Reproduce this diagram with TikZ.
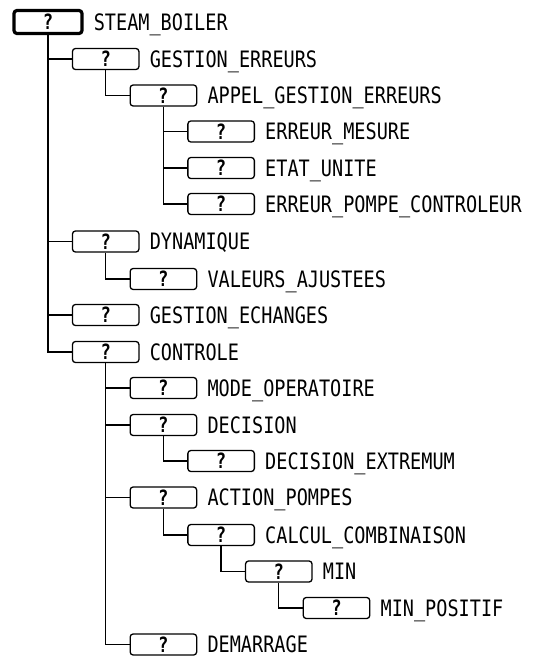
\documentclass[tikz,border=0pt]{standalone}
\usepackage{fontspec}
\newfontfamily\treefont[FakeStretch=0.82]{DejaVu Sans Mono}
\usetikzlibrary{positioning}

\tikzset{
  unit/.style={draw, line width=1.3pt, rounded corners=3pt, minimum width=66.5pt,
    minimum height=21pt, inner sep=0pt, text height=15pt, text depth=0pt,
    font=\treefont\bfseries\fontsize{21}{21}\selectfont},
  rootunit/.style={unit, line width=3.2pt, minimum width=68pt, minimum height=23pt},
  lbl/.style={inner sep=0pt, anchor=west, text height=16.5pt, text depth=0pt,
    font=\treefont\fontsize{22.6}{24}\selectfont},
  conn/.style={line width=1.3pt}
}

\begin{document}
\begin{tikzpicture}[x=1pt,y=-1pt]
\useasboundingbox (0,0) rectangle (533,656);

% boxes, one row each
\node[rootunit] (sb) at (48,22) {?};
\node[unit] (ge) at (105.7,59) {?};
\node[unit] (age) at (163.4,95.5) {?};
\node[unit] (em) at (221.1,131.5) {?};
\node[unit] (eu) at (221.1,168) {?};
\node[unit] (epc) at (221.1,204) {?};
\node[unit] (dyn) at (105.7,241.5) {?};
\node[unit] (va) at (163.4,279) {?};
\node[unit] (gech) at (105.7,315) {?};
\node[unit] (ctl) at (105.7,352) {?};
\node[unit] (mo) at (163.4,388) {?};
\node[unit] (dec) at (163.4,425) {?};
\node[unit] (dex) at (221.1,461) {?};
\node[unit] (ap) at (163.4,497.5) {?};
\node[unit] (cc) at (221.1,535) {?};
\node[unit] (mn) at (278.8,571.5) {?};
\node[unit] (mnp) at (336.5,608) {?};
\node[unit] (dem) at (163.4,644.5) {?};

% names
\node[lbl, right=10pt of sb] (sbl) {STEAM\_BOILER};
\node[lbl, right=10pt of ge] (gel) {GESTION\_ERREURS};
\node[lbl, right=10pt of age] (agel) {APPEL\_GESTION\_ERREURS};
\node[lbl, right=10pt of em] (eml) {ERREUR\_MESURE};
\node[lbl, right=10pt of eu] (eul) {ETAT\_UNITE};
\node[lbl, right=10pt of epc] (epcl) {ERREUR\_POMPE\_CONTROLEUR};
\node[lbl, right=10pt of dyn] (dynl) {DYNAMIQUE};
\node[lbl, right=10pt of va] (val) {VALEURS\_AJUSTEES};
\node[lbl, right=10pt of gech] (gechl) {GESTION\_ECHANGES};
\node[lbl, right=10pt of ctl] (ctll) {CONTROLE};
\node[lbl, right=10pt of mo] (mol) {MODE\_OPERATOIRE};
\node[lbl, right=10pt of dec] (decl) {DECISION};
\node[lbl, right=10pt of dex] (dexl) {DECISION\_EXTREMUM};
\node[lbl, right=10pt of ap] (apl) {ACTION\_POMPES};
\node[lbl, right=10pt of cc] (ccl) {CALCUL\_COMBINAISON};
\node[lbl, right=10pt of mn] (mnl) {MIN};
\node[lbl, right=10pt of mnp] (mnpl) {MIN\_POSITIF};
\node[lbl, right=10pt of dem] (deml) {DEMARRAGE};

% tree lines
\draw[conn] (sb.south) |- (ge.west);
\draw[conn] (sb.south) |- (dyn.west);
\draw[conn] (sb.south) |- (gech.west);
\draw[conn] (sb.south) |- (ctl.west);
\draw[conn] (ge.south) |- (age.west);
\draw[conn] (age.south) |- (em.west);
\draw[conn] (age.south) |- (eu.west);
\draw[conn] (age.south) |- (epc.west);
\draw[conn] (dyn.south) |- (va.west);
\draw[conn] (ctl.south) |- (mo.west);
\draw[conn] (ctl.south) |- (dec.west);
\draw[conn] (ctl.south) |- (ap.west);
\draw[conn] (ctl.south) |- (dem.west);
\draw[conn] (dec.south) |- (dex.west);
\draw[conn] (ap.south) |- (cc.west);
\draw[conn] (cc.south) |- (mn.west);
\draw[conn] (mn.south) |- (mnp.west);

\end{tikzpicture}
\end{document}
